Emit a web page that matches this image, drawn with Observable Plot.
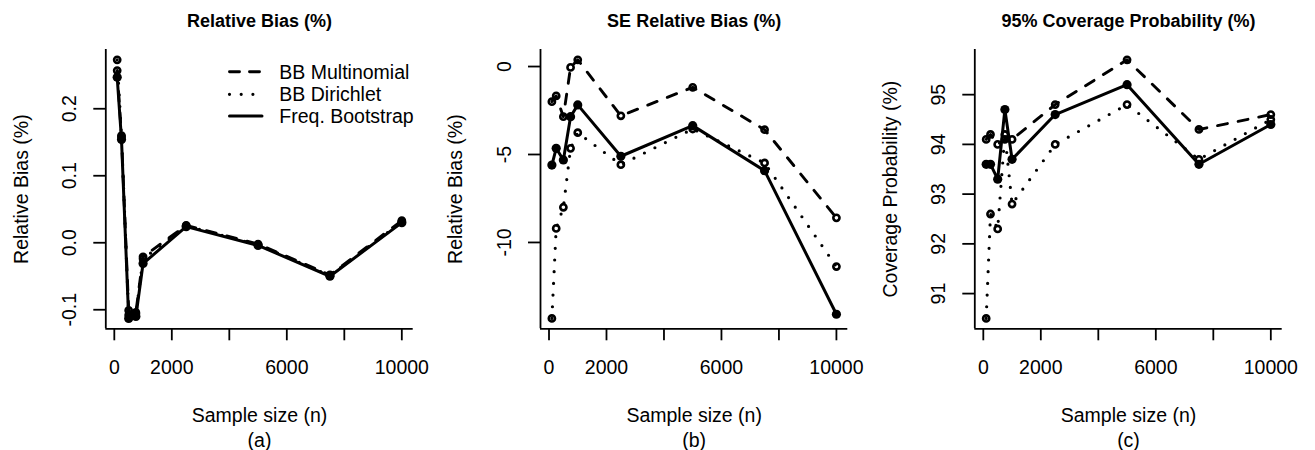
<!DOCTYPE html>
<html><head><meta charset="utf-8">
<script src="https://cdn.jsdelivr.net/npm/d3@7"></script>
<script src="https://cdn.jsdelivr.net/npm/@observablehq/plot@0.6"></script>
<style>
body{margin:0;background:#fff;}
#wrap{position:relative;width:1315px;height:450px;display:flex;font-family:"Liberation Sans",Arial,Helvetica,sans-serif;}
#wrap svg{display:block;}
#legend{position:absolute;left:0;top:0;pointer-events:none;}
</style></head><body><div id="wrap"></div>
<script>
// ---- data ----
const sampleSize = [100, 250, 500, 750, 1000, 2500, 5000, 7500, 10000];
const seriesNames = ["BB Multinomial", "BB Dirichlet", "Freq. Bootstrap"];

const relBiasMult = [0.257, 0.158, -0.101, -0.104, -0.021, 0.026, -0.002, -0.048, 0.033];
const relBiasDir  = [0.273, 0.160, -0.108, -0.106, -0.024, 0.025, -0.003, -0.049, 0.031];
const relBiasFreq = [0.247, 0.154, -0.113, -0.110, -0.031, 0.024, -0.004, -0.050, 0.030];

const seBiasMult = [-2.0, -1.67, -2.85, -0.05, 0.38, -2.8, -1.18, -3.59, -8.6];
const seBiasDir  = [-14.32, -9.2, -8.0, -4.65, -3.76, -5.58, -3.55, -5.48, -11.37];
const seBiasFreq = [-5.6, -4.65, -5.31, -2.85, -2.18, -5.1, -3.36, -5.92, -14.08];

const coverMult = [94.1, 94.2, 94.0, 94.1, 94.1, 94.8, 95.7, 94.3, 94.6];
const coverDir  = [90.5, 92.6, 92.3, 94.2, 92.8, 94.0, 94.8, 93.7, 94.5];
const coverFreq = [93.6, 93.6, 93.3, 94.7, 93.7, 94.6, 95.2, 93.6, 94.4];

const xTicks = [0, 2000, 4000, 6000, 8000, 10000];
const xTickLabels = ["0", "2000", "", "6000", "", "10000"];

const yTicksA = [-0.1, 0, 0.1, 0.2];
const yTickLabelsA = ["-0.1", "0.0", "0.1", "0.2"];
const yTicksB = [-10, -5, 0];
const yTickLabelsB = ["-10", "-5", "0"];
const yTicksC = [91, 92, 93, 94, 95];
const yTickLabelsC = ["91", "92", "93", "94", "95"];

const panelTitles = ["Relative Bias (%)", "SE Relative Bias (%)", "95% Coverage Probability (%)"];
const yAxisLabels = ["Relative Bias (%)", "Relative Bias (%)", "Coverage Probability (%)"];
const xAxisLabel = "Sample size (n)";
const panelTags = ["(a)", "(b)", "(c)"];

// ---- styling ----
const FONT = "Liberation Sans, Arial, Helvetica, sans-serif";
const FS = 19.5;
const lineStyle = {
  "BB Multinomial": {strokeDasharray: "10,11", strokeWidth: 2.9},
  "BB Dirichlet":   {strokeDasharray: "0,11.7", strokeWidth: 3.2},
  "Freq. Bootstrap":{strokeDasharray: null, strokeWidth: 3}
};

function padDomain(vals) {
  const [a, b] = d3.extent(vals);
  const p = (b - a) * 0.04;
  return [a - p, b + p];
}

function panel({values, yTicks, yTickLabels, title, ylab, tag, width, ml, mr}) {
  const rows = [];
  seriesNames.forEach((s, k) => sampleSize.forEach((n, i) => rows.push({n, v: values[k][i], s})));
  const xDom = padDomain(sampleSize);
  const yDom = padDomain(values.flat());
  const xLab = new Map(xTicks.map((t, i) => [t, xTickLabels[i]]));
  const lineMarks = ["BB Dirichlet", "BB Multinomial", "Freq. Bootstrap"].map(s =>
    Plot.line(rows.filter(r => r.s === s), {
      x: "n", y: "v", stroke: "black", strokeLinecap: "round", strokeLinejoin: "round",
      ...lineStyle[s]
    }));
  return Plot.plot({
    width, height: 450,
    marginLeft: ml, marginRight: mr, marginTop: 49, marginBottom: 121.7,
    style: {fontFamily: FONT, fontSize: FS + "px", color: "black", background: "white", overflow: "visible"},
    x: {domain: xDom},
    y: {domain: yDom},
    marks: [
      Plot.ruleX([xDom[0]], {stroke: "black", strokeWidth: 1.8}),
      Plot.ruleY([yDom[0]], {stroke: "black", strokeWidth: 1.8}),
      Plot.axisX({ticks: xTicks, tickFormat: d => xLab.get(d), tickSize: 12, tickPadding: 19.5,
                  strokeWidth: 1.8, label: null, fontSize: FS}),
      Plot.axisY({ticks: yTicks, tickFormat: () => "", tickSize: 12, strokeWidth: 1.8, label: null}),
      Plot.text(yTicks, {y: d => d, text: (d, i) => yTickLabels[i], frameAnchor: "left", dx: -36,
                         rotate: -90, textAnchor: "middle", lineAnchor: "middle", fontSize: FS}),
      ...lineMarks,
      Plot.dot(rows.filter(r => r.s !== "Freq. Bootstrap"), {x: "n", y: "v", r: 3.1, stroke: "black", strokeWidth: 2.6, fill: "none"}),
      Plot.dot(rows.filter(r => r.s === "Freq. Bootstrap"), {x: "n", y: "v", r: 4.6, fill: "black", stroke: "none"}),
      Plot.text([title], {text: d => d, frameAnchor: "top", dy: -28, fontWeight: "bold", fontSize: 18,
                          textAnchor: "middle", lineAnchor: "middle"}),
      Plot.text([ylab], {text: d => d, frameAnchor: "left", dx: -84.5, rotate: -90, fontSize: FS,
                         textAnchor: "middle", lineAnchor: "middle"}),
      Plot.text([xAxisLabel], {text: d => d, frameAnchor: "bottom", dy: 86.7, fontSize: FS,
                               textAnchor: "middle", lineAnchor: "middle"}),
      Plot.text([tag], {text: d => d, frameAnchor: "bottom", dy: 111.7, fontSize: FS,
                        textAnchor: "middle", lineAnchor: "middle"})
    ]
  });
}

const wrap = document.getElementById("wrap");
wrap.append(panel({values: [relBiasMult, relBiasDir, relBiasFreq], yTicks: yTicksA, yTickLabels: yTickLabelsA,
  title: panelTitles[0], ylab: yAxisLabels[0], tag: panelTags[0], width: 438, ml: 105.3, mr: 25.3}));
wrap.append(panel({values: [seBiasMult, seBiasDir, seBiasFreq], yTicks: yTicksB, yTickLabels: yTickLabelsB,
  title: panelTitles[1], ylab: yAxisLabels[1], tag: panelTags[1], width: 438, ml: 102, mr: 28.7}));
wrap.append(panel({values: [coverMult, coverDir, coverFreq], yTicks: yTicksC, yTickLabels: yTickLabelsC,
  title: panelTitles[2], ylab: yAxisLabels[2], tag: panelTags[2], width: 439, ml: 98.3, mr: 33.3}));

// ---- legend (inside panel a) ----
const leg = d3.select("#wrap").append("svg").attr("id", "legend").attr("width", 438).attr("height", 150);
const legRowY = [71.7, 94.3, 116];
seriesNames.forEach((s, i) => {
  const st = lineStyle[s];
  leg.append("line").attr("x1", 229.5).attr("x2", 262).attr("y1", legRowY[i]).attr("y2", legRowY[i])
    .attr("stroke", "black").attr("stroke-width", st.strokeWidth).attr("stroke-linecap", "round")
    .attr("stroke-dasharray", s === "BB Multinomial" ? "10,10" : st.strokeDasharray);
  leg.append("text").attr("x", 279.3).attr("y", legRowY[i]).attr("dy", "0.35em")
    .attr("font-family", FONT).attr("font-size", FS).text(s);
});
</script>
</body></html>
